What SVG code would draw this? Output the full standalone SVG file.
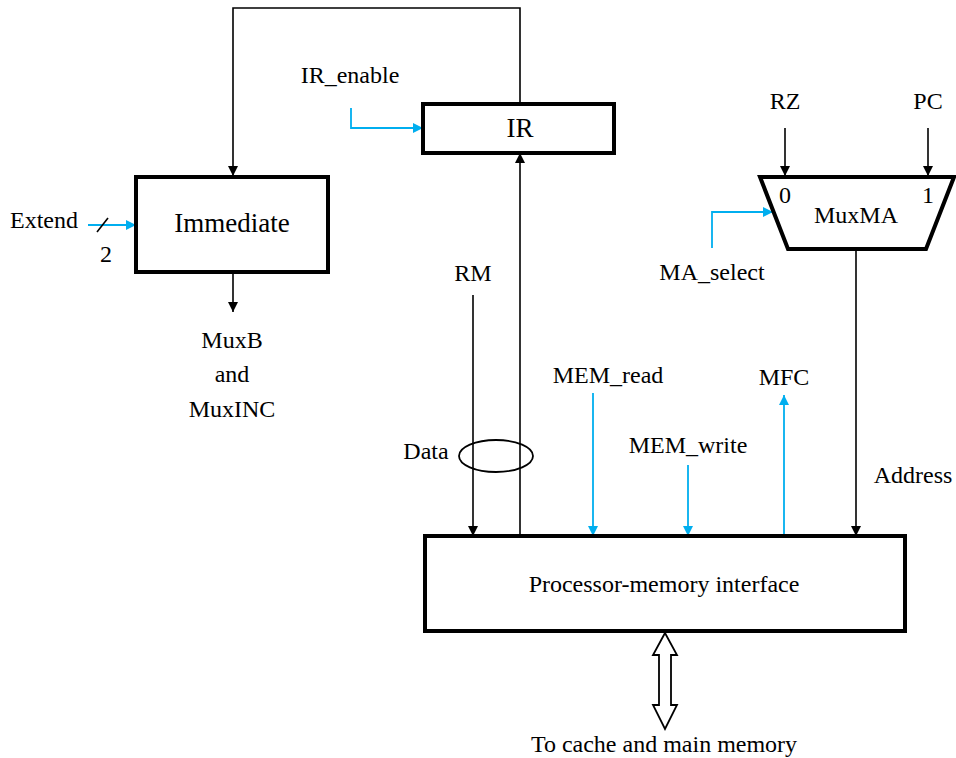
<svg xmlns="http://www.w3.org/2000/svg" width="956" height="758" viewBox="0 0 956 758">
<style>
text{font-family:"Liberation Serif","Times New Roman","DejaVu Serif",serif;font-size:24px;fill:#000;text-anchor:middle}
.big{font-size:27px}
.box{fill:#fff;stroke:#000;stroke-width:4}
.k{fill:none;stroke:#000;stroke-width:1.6}
.b{fill:none;stroke:#00aeef;stroke-width:1.8}
</style>
<defs>
<marker id="akw" viewBox="0 0 10 10" refX="10" refY="5" markerWidth="16" markerHeight="10" markerUnits="userSpaceOnUse" orient="auto"><path d="M0,0L10,5L0,10z" fill="#000"/></marker>
<marker id="abw" viewBox="0 0 10 10" refX="10" refY="5" markerWidth="16" markerHeight="10" markerUnits="userSpaceOnUse" orient="auto"><path d="M0,0L10,5L0,10z" fill="#00aeef"/></marker>
</defs>
<g id="connectors">
<path class="k" d="M520,104V8H233V176" marker-end="url(#akw)"/>
<path class="b" d="M351,108V128H423" marker-end="url(#abw)"/>
<path class="b" d="M88,225H136" marker-end="url(#abw)"/>
<path class="k" d="M97,232L108,218"/>
<path class="k" d="M233,272V312" marker-end="url(#akw)"/>
<path class="k" d="M473,295V536" marker-end="url(#akw)"/>
<path class="k" d="M520,536V153" marker-end="url(#akw)"/>
<ellipse cx="496" cy="456" rx="37" ry="16" fill="none" stroke="#000" stroke-width="1.8"/>
<path class="b" d="M593,393V536" marker-end="url(#abw)"/>
<path class="b" d="M688,465V536" marker-end="url(#abw)"/>
<path class="b" d="M784,536V395" marker-end="url(#abw)"/>
<path class="k" d="M856,250V536" marker-end="url(#akw)"/>
<path class="k" d="M785,128V176" marker-end="url(#akw)"/>
<path class="k" d="M928,128V176" marker-end="url(#akw)"/>
<path class="b" d="M712,248V212H773" marker-end="url(#abw)"/>
<path d="M665,633L677,655H671V705H677L665,729L653,705H659V655H653Z" fill="#fff" stroke="#000" stroke-width="1.8" stroke-linejoin="miter"/>
</g>
<g id="ir"><rect class="box" x="423" y="104" width="191" height="49"/><text class="big" x="520" y="137">IR</text></g>
<g id="immediate"><rect class="box" x="136" y="177" width="192" height="95"/><text class="big" x="232" y="232">Immediate</text></g>
<g id="muxma"><path class="box" d="M760,177H954L926,249H788Z"/><text x="785" y="203">0</text><text x="928" y="203">1</text><text x="856" y="223">MuxMA</text></g>
<g id="pmi"><rect class="box" x="425" y="536" width="480" height="95"/><text x="664" y="592">Processor-memory interface</text></g>
<g id="labels">
<text x="350" y="83">IR_enable</text>
<text x="44" y="228">Extend</text>
<text x="106" y="262">2</text>
<text x="232" y="348">MuxB</text>
<text x="232" y="382">and</text>
<text x="232" y="417">MuxINC</text>
<text x="473" y="281">RM</text>
<text x="426" y="459">Data</text>
<text x="608" y="383">MEM_read</text>
<text x="688" y="453">MEM_write</text>
<text x="784" y="385">MFC</text>
<text x="913" y="483">Address</text>
<text x="785" y="109">RZ</text>
<text x="928" y="109">PC</text>
<text x="712" y="280">MA_select</text>
<text x="664" y="752">To cache and main memory</text>
</g>
</svg>
